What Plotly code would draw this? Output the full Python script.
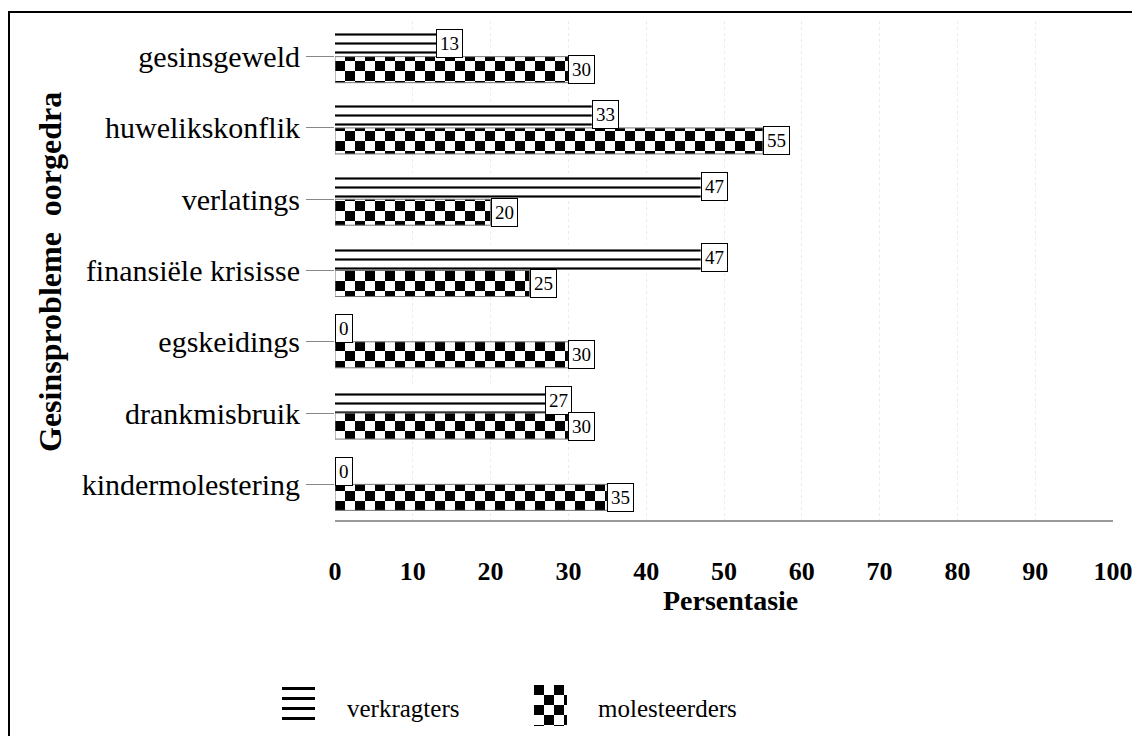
import plotly.graph_objects as go

categories = ["gesinsgeweld", "huwelikskonflik", "verlatings", "finansiële krisisse",
              "egskeidings", "drankmisbruik", "kindermolestering"]
verkragters = [13, 33, 47, 47, 0, 27, 0]
molesteerders = [30, 55, 20, 25, 30, 30, 35]
series_names = ["verkragters", "molesteerders"]
x_ticks = [0, 10, 20, 30, 40, 50, 60, 70, 80, 90, 100]

SERIF = "Liberation Serif, Times New Roman, serif"
W, H = 1128, 728
OFF = 8  # page body margin


def px_x(p):
    return (p - OFF) / W


def px_y(p):
    return (H - (p - OFF)) / H


lines_marker = dict(color="white", line=dict(width=0),
                    pattern=dict(shape="-", fgcolor="black", bgcolor="white",
                                 size=9, solidity=0.24, fillmode="replace"))
checker_marker = dict(color="white", line=dict(width=1, color="#777"),
                      pattern=dict(path="M0,0H10V10H0Z M10,10H20V20H10Z", fgcolor="black",
                                   bgcolor="white", size=20, solidity=1, fillmode="replace"))
lines_key_marker = dict(color="white", line=dict(width=0),
                        pattern=dict(path="M0,4H10V7H0Z", fgcolor="black", bgcolor="white",
                                     size=10, solidity=1, fillmode="replace"))

fig = go.Figure()
fig.add_trace(go.Bar(name=series_names[0], y=categories, x=verkragters, orientation="h",
                     marker=lines_marker, xaxis="x", yaxis="y"))
fig.add_trace(go.Bar(name=series_names[1], y=categories, x=molesteerders, orientation="h",
                     marker=checker_marker, xaxis="x", yaxis="y"))

# legend keys (custom, larger swatches)
fig.add_trace(go.Bar(x=[series_names[0]], y=[1], width=1, marker=lines_key_marker,
                     xaxis="x2", yaxis="y2", showlegend=False, hoverinfo="skip"))
fig.add_trace(go.Bar(x=[series_names[1]], y=[1], width=1,
                     marker=dict(checker_marker, line=dict(width=0)),
                     xaxis="x3", yaxis="y3", showlegend=False, hoverinfo="skip"))

annotations = []
for series, shift in ((verkragters, 13), (molesteerders, -13)):
    for c, v in zip(categories, series):
        annotations.append(dict(
            x=v, y=c, xref="x", yref="y", text=str(v), showarrow=False,
            xanchor="left", yanchor="middle", yshift=shift,
            font=dict(family=SERIF, size=19, color="black"),
            bgcolor="white", bordercolor="black", borderwidth=1, borderpad=3,
        ))

# axis titles
annotations.append(dict(text="<b>Persentasie</b>", xref="paper", yref="paper",
                        x=px_x(730), y=px_y(600), xanchor="center", yanchor="middle",
                        showarrow=False, font=dict(family=SERIF, size=28, color="black")))
annotations.append(dict(text="<b>Gesinsprobleme  oorgedra</b>", xref="paper", yref="paper",
                        x=px_x(50), y=px_y(272), xanchor="center", yanchor="middle",
                        textangle=-90, showarrow=False,
                        font=dict(family=SERIF, size=32, color="black")))
# legend texts
annotations.append(dict(text=series_names[0], xref="paper", yref="paper",
                        x=px_x(345), y=px_y(708), xanchor="left", yanchor="middle",
                        showarrow=False, font=dict(family=SERIF, size=25, color="black")))
annotations.append(dict(text=series_names[1], xref="paper", yref="paper",
                        x=px_x(596), y=px_y(708), xanchor="left", yanchor="middle",
                        showarrow=False, font=dict(family=SERIF, size=25, color="black")))

fig.update_layout(
    width=W, height=H,
    margin=dict(l=0, r=0, t=0, b=0, autoexpand=False),
    paper_bgcolor="white", plot_bgcolor="white",
    barmode="group", bargap=0.27, bargroupgap=0,
    font=dict(family=SERIF, color="black"),
    showlegend=False,
    annotations=annotations,
    shapes=[dict(type="rect", xref="paper", yref="paper",
                 x0=px_x(9), x1=px_x(1133), y0=-0.05, y1=px_y(12),
                 line=dict(color="black", width=2), fillcolor="rgba(0,0,0,0)")],
    xaxis=dict(
        domain=[px_x(335), px_x(1113)], anchor="y",
        range=[0, 100], tickvals=x_ticks, ticktext=[str(t) for t in x_ticks],
        showgrid=True, gridcolor="rgba(0,0,0,0.08)", griddash="dot", zeroline=False,
        showline=True, linecolor="#999", linewidth=1.5,
        ticks="", ticklabelstandoff=27, automargin=False,
        tickfont=dict(family=SERIF, size=26, color="black", weight="bold"),
    ),
    yaxis=dict(
        domain=[px_y(520), px_y(21)], anchor="x",
        autorange="reversed", categoryorder="array", categoryarray=categories,
        showgrid=False, showline=False, zeroline=False, automargin=False,
        ticks="outside", ticklen=28, tickcolor="#888", tickwidth=1,
        tickfont=dict(family=SERIF, size=30, color="black"),
    ),
    xaxis2=dict(domain=[px_x(282), px_x(315)], anchor="y2", visible=False, fixedrange=True),
    yaxis2=dict(domain=[px_y(726), px_y(683)], anchor="x2", range=[0, 1], visible=False, fixedrange=True),
    xaxis3=dict(domain=[px_x(534), px_x(567)], anchor="y3", visible=False, fixedrange=True),
    yaxis3=dict(domain=[px_y(726), px_y(685)], anchor="x3", range=[0, 1], visible=False, fixedrange=True),
)

fig.write_html("out.html")
